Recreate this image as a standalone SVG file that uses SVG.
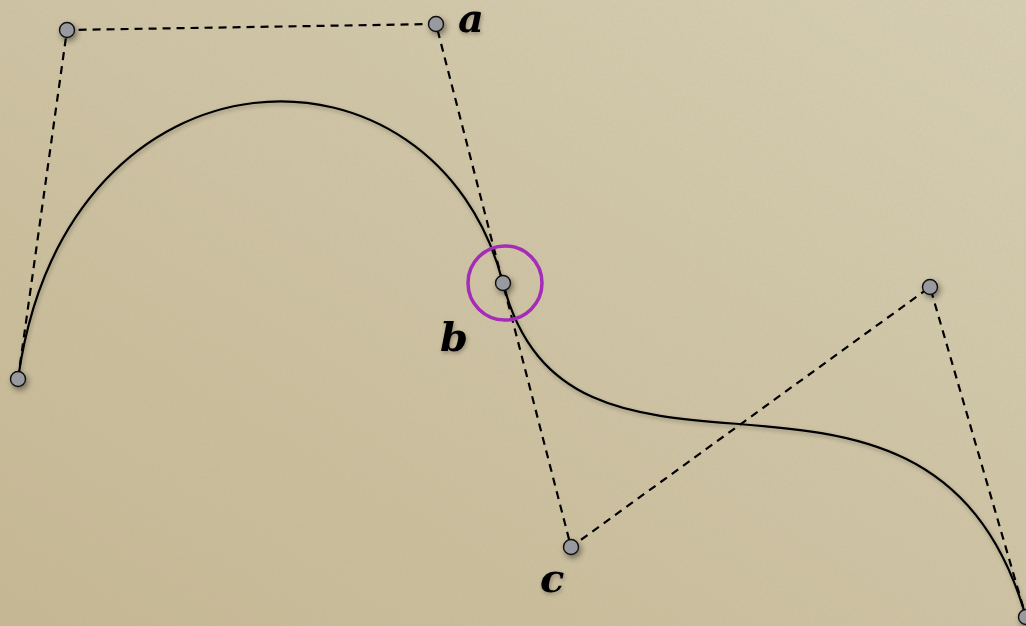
<svg xmlns="http://www.w3.org/2000/svg" width="1026" height="626" viewBox="0 0 1026 626">
<defs>
<linearGradient id="bg" x1="0" y1="1" x2="1" y2="0">
<stop offset="0" stop-color="#c6b893"/>
<stop offset="0.5" stop-color="#cec3a3"/>
<stop offset="1" stop-color="#d7cfb4"/>
</linearGradient>
<filter id="noise" x="0" y="0" width="100%" height="100%">
<feTurbulence type="fractalNoise" baseFrequency="0.35" numOctaves="2" seed="3" result="n"/>
<feColorMatrix type="matrix" values="0 0 0 0 0.45  0 0 0 0 0.4  0 0 0 0 0.3  0 0 0 0.35 -0.05" />
</filter>
<filter id="shadow" x="-100%" y="-100%" width="300%" height="300%">
<feGaussianBlur in="SourceAlpha" stdDeviation="3"/>
<feOffset dx="2" dy="3" result="b"/>
<feComponentTransfer><feFuncA type="linear" slope="0.45"/></feComponentTransfer>
<feMerge><feMergeNode/><feMergeNode in="SourceGraphic"/></feMerge>
</filter>
<filter id="tshadow" x="-50%" y="-50%" width="200%" height="200%">
<feGaussianBlur in="SourceAlpha" stdDeviation="2"/>
<feOffset dx="1" dy="2"/>
<feComponentTransfer><feFuncA type="linear" slope="0.3"/></feComponentTransfer>
<feMerge><feMergeNode/><feMergeNode in="SourceGraphic"/></feMerge>
</filter>
</defs>
<style>
.dash{fill:none;stroke:#000;stroke-width:2.2;stroke-dasharray:8 6}
.curve{fill:none;stroke:#000;stroke-width:2.2}
.pt{fill:#999aa0;stroke:#111;stroke-width:1.4}
.lbl{font-family:"DejaVu Serif","Liberation Serif",serif;font-style:italic;font-weight:bold;font-size:40px;fill:#000}
</style>
<rect width="1026" height="626" fill="url(#bg)"/>
<rect width="1026" height="626" filter="url(#noise)" opacity="0.5"/>
<g id="connectors">
<path class="dash" d="M18,379 L67,30 L436,24 L571,547 L930,287 L1026,617"/>
<path class="curve" d="M18,379 C67,30 436,24 503,283 C571,547 930,287 1026,617" filter="url(#tshadow)"/>
</g>
<g id="highlight">
<circle cx="505" cy="283" r="37" fill="none" stroke="#a42cb8" stroke-width="3.5"/>
</g>
<g id="p0"><circle class="pt" cx="18" cy="379" r="7.5" filter="url(#shadow)"/></g>
<g id="p1"><circle class="pt" cx="67" cy="30" r="7.5" filter="url(#shadow)"/></g>
<g id="p2"><circle class="pt" cx="436" cy="24" r="7.5" filter="url(#shadow)"/></g>
<g id="p3"><circle class="pt" cx="503" cy="283" r="7.5" filter="url(#shadow)"/></g>
<g id="p4"><circle class="pt" cx="571" cy="547" r="7.5" filter="url(#shadow)"/></g>
<g id="p5"><circle class="pt" cx="930" cy="287" r="7.5" filter="url(#shadow)"/></g>
<g id="p6"><circle class="pt" cx="1026" cy="617" r="7.5" filter="url(#shadow)"/></g>
<g id="labels" filter="url(#tshadow)">
<text class="lbl" x="458" y="32">a</text>
<text class="lbl" x="440" y="351">b</text>
<text class="lbl" x="540" y="592">c</text>
</g>
</svg>
